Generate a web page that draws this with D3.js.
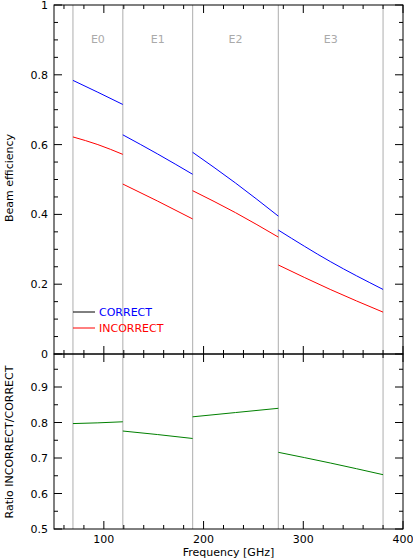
<!DOCTYPE html><html><head><meta charset="utf-8">
<script src="https://cdn.jsdelivr.net/npm/d3@7"></script>
<style>body{margin:0;background:#fff}text{font-family:"DejaVu Sans",sans-serif;font-size:11px}</style></head><body>
<svg id="c" width="413" height="560"></svg>
<script>
const bandEdges=[69,119,189,275,380];
const bandNames=["E0","E1","E2","E3"];
const freqs=[[69,94,119],[119,154,189],[189,232,275],[275,327,380]];
const correct=[[0.784,0.750,0.715],[0.628,0.573,0.515],[0.578,0.490,0.395],[0.355,0.265,0.185]];
const incorrect=[[0.622,0.600,0.572],[0.487,0.438,0.387],[0.468,0.405,0.335],[0.255,0.185,0.120]];
const ratio=[[0.797,0.799,0.802],[0.776,0.766,0.755],[0.816,0.828,0.840],[0.716,0.686,0.653]];
const yTop=[0,0.2,0.4,0.6,0.8,1];
const yBot=[0.5,0.6,0.7,0.8,0.9];
const xTicks=[100,200,300,400];

const svg=d3.select("#c");
const L=54,R=403,T1=5,B1=354,B2=529;
const x=d3.scaleLinear().domain([50,400]).range([L,R]);
const y1=d3.scaleLinear().domain([0,1]).range([B1,T1]);
const y2=d3.scaleLinear().domain([0.5,0.5+(B2-B1)/355]).range([B2,B1]);

// band lines
svg.selectAll(".bl").data(bandEdges).join("line").attr("x1",d=>x(d)).attr("x2",d=>x(d))
 .attr("y1",T1).attr("y2",B2).attr("stroke","#bbb").attr("stroke-width",1.2);
svg.selectAll(".bn").data(bandNames).join("text").attr("x",(d,i)=>x((bandEdges[i]+bandEdges[i+1])/2))
 .attr("y",43).attr("text-anchor","middle").attr("fill","#aaa").text(d=>d);

const line=(ys)=>d3.line().curve(d3.curveMonotoneX).x(d=>x(d[0])).y(d=>ys(d[1]));
function draw(arr,ys,col){arr.forEach((s,i)=>svg.append("path").datum(freqs[i].map((f,j)=>[f,s[j]]))
 .attr("d",line(ys)).attr("fill","none").attr("stroke",col).attr("stroke-width",1));}
draw(correct,y1,"blue");draw(incorrect,y1,"red");draw(ratio,y2,"green");

function frame(top,bot,ys,ticks,minorStep,labels,bottomLabels){
 svg.append("rect").attr("x",L).attr("y",top).attr("width",R-L).attr("height",bot-top).attr("fill","none").attr("stroke","#000");
 const [a,b]=ys.domain();
 for(let v=Math.ceil(a/minorStep-1e-6)*minorStep;v<=b+1e-9;v+=minorStep){
  const maj=ticks.some(t=>Math.abs(t-v)<1e-6), len=maj?8:4;
  svg.append("line").attr("x1",L).attr("x2",L+len).attr("y1",ys(v)).attr("y2",ys(v)).attr("stroke","#000");
  svg.append("line").attr("x1",R).attr("x2",R-len).attr("y1",ys(v)).attr("y2",ys(v)).attr("stroke","#000");
 }
 if(labels) ticks.forEach(t=>svg.append("text").attr("x",L-6).attr("y",ys(t)+4).attr("text-anchor","end").text(labels(t)));
 for(let f=60;f<=400;f+=20){const maj=f%100==0,len=maj?8:4;
  svg.append("line").attr("x1",x(f)).attr("x2",x(f)).attr("y1",top).attr("y2",top+len).attr("stroke","#000");
  svg.append("line").attr("x1",x(f)).attr("x2",x(f)).attr("y1",bot).attr("y2",bot-len).attr("stroke","#000");}
 if(bottomLabels) xTicks.forEach(t=>svg.append("text").attr("x",x(t)).attr("y",bot+14).attr("text-anchor","middle").text(t));
}
frame(T1,B1,y1,yTop,0.05,t=>t==0||t==1?String(t):t.toFixed(1),false);
frame(B1,B2,y2,yBot,0.05,t=>t.toFixed(1),true);

svg.append("text").attr("transform","translate(13,178) rotate(-90)").attr("text-anchor","middle").text("Beam efficiency");
svg.append("text").attr("transform","translate(13,442) rotate(-90)").attr("text-anchor","middle").text("Ratio INCORRECT/CORRECT");
svg.append("text").attr("x",x(225)).attr("y",556).attr("text-anchor","middle").text("Frequency [GHz]");

const leg=[["CORRECT","#000","blue",312],["INCORRECT","red","red",328]];
leg.forEach(d=>{svg.append("line").attr("x1",73).attr("x2",95).attr("y1",d[3]).attr("y2",d[3]).attr("stroke",d[1]);
 svg.append("text").attr("x",99).attr("y",d[3]+4).attr("fill",d[2]).text(d[0]);});
</script></body></html>
